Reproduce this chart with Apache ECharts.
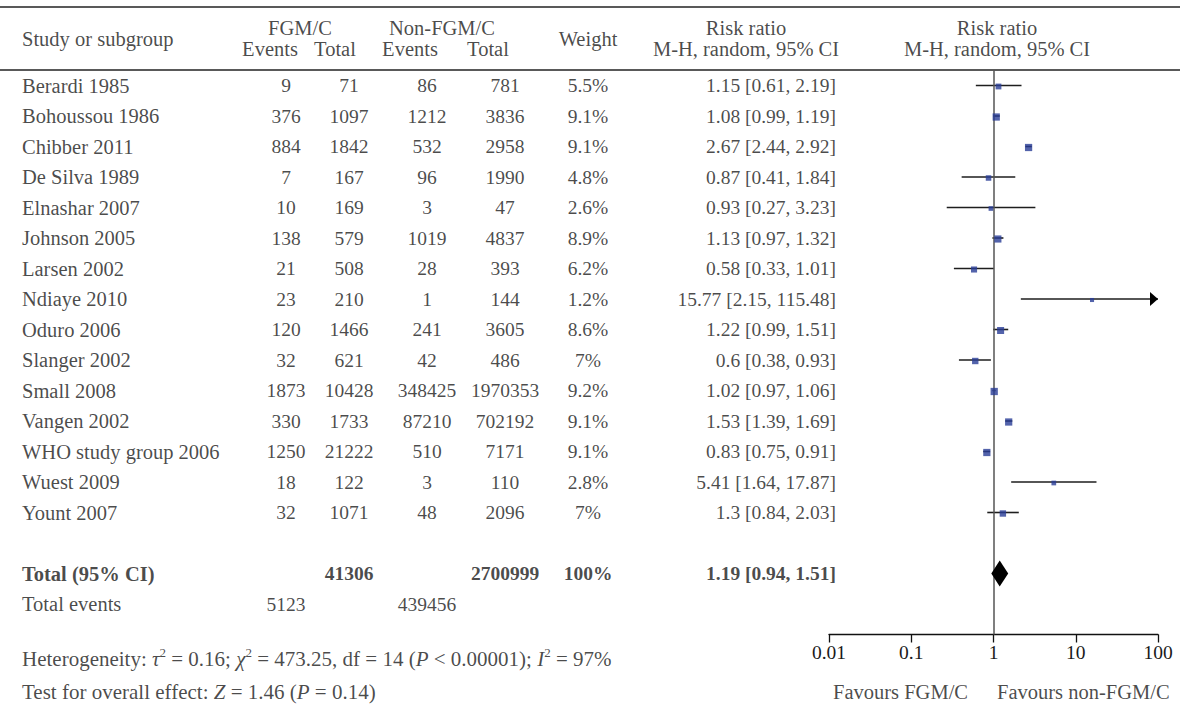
<!DOCTYPE html>
<html><head><meta charset="utf-8">
<script src="https://cdn.jsdelivr.net/npm/echarts@6/dist/echarts.min.js"></script>
<style>html,body{margin:0;padding:0;background:#fff}#c{width:1180px;height:707px}</style>
</head><body><div id="c"></div>
<script>
// ---------------- DATA ----------------
const studies = ['Berardi 1985','Bohoussou 1986','Chibber 2011','De Silva 1989','Elnashar 2007','Johnson 2005','Larsen 2002','Ndiaye 2010','Oduro 2006','Slanger 2002','Small 2008','Vangen 2002','WHO study group 2006','Wuest 2009','Yount 2007'];
const fgmEvents = [9,376,884,7,10,138,21,23,120,32,1873,330,1250,18,32];
const fgmTotal = [71,1097,1842,167,169,579,508,210,1466,621,10428,1733,21222,122,1071];
const nonEvents = [86,1212,532,96,3,1019,28,1,241,42,348425,87210,510,3,48];
const nonTotal = [781,3836,2958,1990,47,4837,393,144,3605,486,1970353,702192,7171,110,2096];
const weights = [5.5,9.1,9.1,4.8,2.6,8.9,6.2,1.2,8.6,7,9.2,9.1,9.1,2.8,7];
const riskRatio = [1.15,1.08,2.67,0.87,0.93,1.13,0.58,15.77,1.22,0.6,1.02,1.53,0.83,5.41,1.3];
const ciLow = [0.61,0.99,2.44,0.41,0.27,0.97,0.33,2.15,0.99,0.38,0.97,1.39,0.75,1.64,0.84];
const ciHigh = [2.19,1.19,2.92,1.84,3.23,1.32,1.01,115.48,1.51,0.93,1.06,1.69,0.91,17.87,2.03];
const totalFgm = 41306;
const totalNon = 2700999;
const totalWeight = 100;
const pooledRR = 1.19, pooledLow = 0.94, pooledHigh = 1.51;
const eventsFgm = 5123;
const eventsNon = 439456;
const tickLabels = ['0.01','0.1','1','10','100'];
const heterogeneityText = '{n|Heterogeneity: }{i|τ}{s|2}{n| = 0.16; }{i|χ}{s|2}{n| = 473.25, df = 14 (}{i|P}{n| < 0.00001); }{i|I}{s|2}{n| = 97%}';
const overallText = '{n|Test for overall effect: }{i|Z}{n| = 1.46 (}{i|P}{n| = 0.14)}';

// ---------------- LAYOUT ----------------
const W = 1180, H = 707;
const ROW0 = 85.5, ROWH = 30.5;          // pixel y of first study row, row pitch
const rOf = y => (y - ROW0) / ROWH;      // pixel y -> row units
const COL = {study:22, fe:286, ft:349, ne:427, nt:505, wt:588, rr:836};
const HDR = {fgm:300, non:442, fe:270, ft:335, ne:410, nt:488, rr:746, plot:997};
const Y = {top:7, h1:28, h2:49, hmid:38.5, rule:70, total:16, events:17, het:659, test:692};
const AXMIN = 0.01, AXMAX = 100;
const FONT = "'Liberation Serif','DejaVu Serif',serif";
const FS_NUM = 19.5, FS_TXT = 20.5, FS_FOOT = 21;
const INK = '#1a1a1a';

const baseLabel = {show:true, position:[0,0], fontFamily:FONT, fontSize:FS_NUM, color:INK, verticalAlign:'middle'};

function textSeries(points, align, extra) {
  return {
    type:'scatter', xAxisIndex:0, yAxisIndex:0, symbolSize:0, silent:true, z:5,
    data: points.map(p => ({value:[p[0], p[1]], label:{formatter:p[2]}})),
    label: Object.assign({}, baseLabel, {align:align}, extra || {})
  };
}
const rows = studies.map((_, i) => i);
const fmt = v => String(v);
const TXT = {fontSize:FS_TXT};

const series = [];
// table columns
series.push(textSeries(rows.map(i => [COL.study, i, studies[i]]), 'left', TXT));
series.push(textSeries(rows.map(i => [COL.fe, i, fmt(fgmEvents[i])]), 'center'));
series.push(textSeries(rows.map(i => [COL.ft, i, fmt(fgmTotal[i])]), 'center'));
series.push(textSeries(rows.map(i => [COL.ne, i, fmt(nonEvents[i])]), 'center'));
series.push(textSeries(rows.map(i => [COL.nt, i, fmt(nonTotal[i])]), 'center'));
series.push(textSeries(rows.map(i => [COL.wt, i, fmt(weights[i]) + '%']), 'center'));
series.push(textSeries(rows.map(i => [COL.rr, i, fmt(riskRatio[i]) + ' [' + fmt(ciLow[i]) + ', ' + fmt(ciHigh[i]) + ']']), 'right'));
// total row (bold)
series.push(textSeries([[COL.study, Y.total, 'Total (95% CI)']], 'left', {fontWeight:'bold', fontSize:FS_TXT}));
series.push(textSeries([
  [COL.ft, Y.total, fmt(totalFgm)],
  [COL.nt, Y.total, fmt(totalNon)],
  [COL.wt, Y.total, fmt(totalWeight) + '%']
], 'center', {fontWeight:'bold'}));
series.push(textSeries([[COL.rr, Y.total, fmt(pooledRR) + ' [' + fmt(pooledLow) + ', ' + fmt(pooledHigh) + ']']], 'right', {fontWeight:'bold'}));
// total events
series.push(textSeries([[COL.study, Y.events, 'Total events']], 'left', TXT));
series.push(textSeries([[COL.fe, Y.events, fmt(eventsFgm)], [COL.ne, Y.events, fmt(eventsNon)]], 'center'));
// headers
series.push(textSeries([[COL.study, rOf(Y.hmid), 'Study or subgroup']], 'left', TXT));
series.push(textSeries([
  [HDR.fgm, rOf(Y.h1), 'FGM/C'], [HDR.non, rOf(Y.h1), 'Non-FGM/C'],
  [HDR.fe, rOf(Y.h2), 'Events'], [HDR.ft, rOf(Y.h2), 'Total'],
  [HDR.ne, rOf(Y.h2), 'Events'], [HDR.nt, rOf(Y.h2), 'Total'],
  [COL.wt, rOf(Y.hmid), 'Weight'],
  [HDR.rr, rOf(Y.h1), 'Risk ratio'], [HDR.rr, rOf(Y.h2), 'M-H, random, 95% CI'],
  [HDR.plot, rOf(Y.h1), 'Risk ratio'], [HDR.plot, rOf(Y.h2), 'M-H, random, 95% CI']
], 'center', TXT));
// footnotes
const rich = {
  n:{fontFamily:FONT, fontSize:FS_FOOT, color:INK, lineHeight:26},
  i:{fontFamily:FONT, fontSize:FS_FOOT, color:INK, fontStyle:'italic', lineHeight:26},
  s:{fontFamily:FONT, fontSize:13, color:INK, lineHeight:17, verticalAlign:'top'}
};
series.push(textSeries([[COL.study, rOf(Y.het), heterogeneityText]], 'left', {rich:rich}));
series.push(textSeries([[COL.study, rOf(Y.test), overallText]], 'left', {rich:rich}));
// favours
series.push(textSeries([[968, rOf(Y.test), 'Favours FGM/C']], 'right', TXT));
series.push(textSeries([[997, rOf(Y.test), 'Favours non-FGM/C']], 'left', TXT));
// rules
[Y.top, Y.rule].forEach(y => series.push({
  type:'line', xAxisIndex:0, yAxisIndex:0, silent:true, symbol:'none', z:3,
  data:[[0, rOf(y)], [W, rOf(y)]], lineStyle:{color:'#222', width:1.3}
}));

// ---- forest plot ----
const ciData = rows.map(i => [ciLow[i], Math.min(ciHigh[i], AXMAX), i, ciHigh[i]]);
series.push({
  type:'custom', xAxisIndex:1, yAxisIndex:1, silent:true, z:4, clip:false,
  data: ciData,
  encode:{x:[0,1], y:2},
  renderItem(params, api) {
    const a = api.coord([api.value(0), api.value(2)]);
    const b = api.coord([api.value(1), api.value(2)]);
    const children = [{type:'line', shape:{x1:a[0], y1:a[1], x2:b[0], y2:b[1]}, style:{stroke:'#1e1e1e', lineWidth:1.6}}];
    if (api.value(3) > AXMAX) {
      children.push({type:'polygon', shape:{points:[[b[0], b[1]], [b[0]-8, b[1]-7], [b[0]-8, b[1]+7]]}, style:{fill:'#000'}});
    }
    return {type:'group', children};
  }
});
series.push({
  type:'scatter', xAxisIndex:1, yAxisIndex:1, silent:true, z:6, symbol:'rect', symbolOffset:[0, 1],
  data: rows.map(i => ({value:[riskRatio[i], i], symbolSize: 3.6 + 0.4 * weights[i]})),
  itemStyle:{color:'#283c96'},
  markLine:{silent:true, symbol:'none', label:{show:false}, lineStyle:{color:'#555', width:1.5, type:'solid'}, data:[{xAxis:1}]}
});
series.push({
  type:'custom', xAxisIndex:1, yAxisIndex:1, silent:true, z:7, clip:false,
  data:[[pooledLow, pooledHigh, Y.total, pooledRR]],
  encode:{x:[0,1,3], y:2},
  renderItem(params, api) {
    const l = api.coord([api.value(0), api.value(2)]);
    const h = api.coord([api.value(1), api.value(2)]);
    const m = api.coord([api.value(3), api.value(2)]);
    const hh = 13;
    return {type:'polygon', shape:{points:[[l[0], l[1]], [m[0], m[1]-hh], [h[0], h[1]], [m[0], m[1]+hh]]}, style:{fill:'#000'}};
  }
});

const option = {
  animation:false,
  backgroundColor:'#fff',
  grid:[
    {left:0, right:0, top:0, bottom:0},
    {left:829, right:W-1158, top:ROW0 - 0.5*ROWH, bottom:H - (ROW0 + 18*ROWH)}
  ],
  xAxis:[
    {gridIndex:0, type:'value', min:0, max:W, show:false},
    {gridIndex:1, type:'log', logBase:10, min:AXMIN, max:AXMAX,
     axisLine:{show:true, onZero:false, lineStyle:{color:'#111', width:1.3}},
     axisTick:{show:true, length:8, inside:false, lineStyle:{color:'#111', width:1.3}},
     splitLine:{show:false}, minorTick:{show:false},
     axisLabel:{fontFamily:FONT, fontSize:FS_NUM, color:INK, margin:8, showMinLabel:true, showMaxLabel:true,
       formatter: v => tickLabels[Math.round(Math.log10(v)) + 2]}}
  ],
  yAxis:[
    {gridIndex:0, type:'value', min:rOf(0), max:rOf(H), inverse:true, show:false},
    {gridIndex:1, type:'value', min:-0.5, max:18, inverse:true, show:false}
  ],
  series
};
const chart = echarts.init(document.getElementById('c'), null, {renderer:'svg'});
chart.setOption(option);
</script></body></html>
